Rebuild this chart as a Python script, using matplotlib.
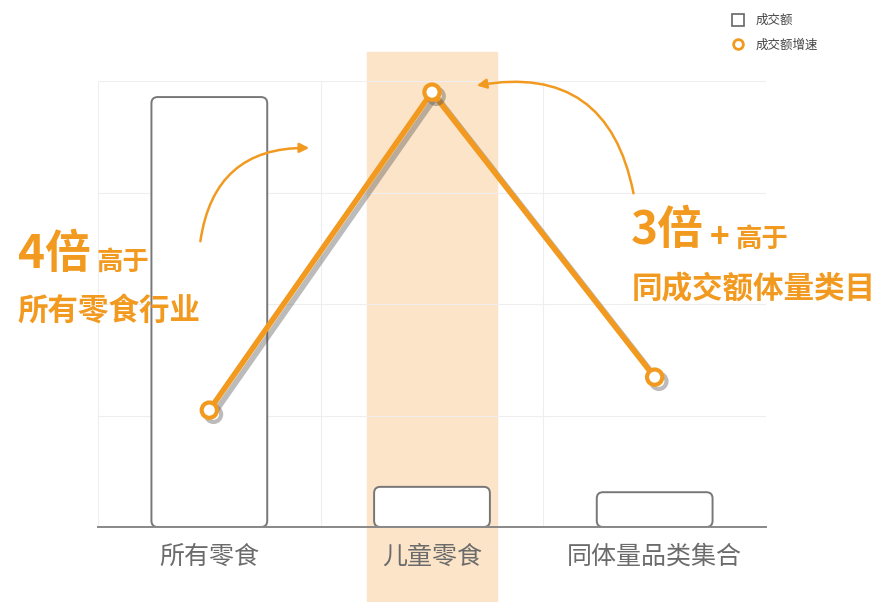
import matplotlib.pyplot as plt
import matplotlib.patheffects as pe
from matplotlib.lines import Line2D
from matplotlib.patches import FancyBboxPatch

plt.rcParams['font.family'] = ['Noto Sans CJK SC', 'DejaVu Sans']

categories = ['所有零食', '儿童零食', '同体量品类集合']
amount = [96.4, 9.0, 7.8]          # 成交额 (relative)
growth = [26.2, 97.5, 33.6]        # 成交额增速 (relative)

orange = '#F29A1F'
gray = '#6B6B6B'

fig = plt.figure(figsize=(8.79, 6.02), dpi=100)
ax = fig.add_axes([98 / 879, 1 - 527 / 602, 668 / 879, 446 / 602])
x = range(len(categories))

ax.set_xlim(-0.5, 2.5)
ax.set_ylim(0, 100)

# highlight band behind 儿童零食
ax.axvspan(1 - 0.29, 1 + 0.29, ymin=-75 / 446, ymax=1 + 29 / 446,
           color='#FCE4C8', zorder=0, clip_on=False)

# faint grid
for gx in [-0.5, 0.5, 1.5, 2.5]:
    ax.axvline(gx, color='#EEEEEE', lw=0.8, zorder=0.5)
for gy in [25, 50, 75, 100]:
    ax.axhline(gy, color='#EEEEEE', lw=0.8, zorder=0.5)

# bars, redrawn with rounded corners
bars = ax.bar(x, amount, width=0.52, alpha=0)
for b in bars:
    ax.add_patch(FancyBboxPatch((b.get_x(), 0), b.get_width(), b.get_height(),
                                boxstyle='round,pad=0,rounding_size=0.028',
                                mutation_aspect=50, facecolor='white',
                                edgecolor='#777777', linewidth=1.4, zorder=2))

ax.plot(x, growth, color=orange, lw=4, marker='o', markersize=11,
        markerfacecolor='white', markeredgecolor=orange, markeredgewidth=3,
        zorder=4, solid_capstyle='round',
        path_effects=[pe.SimpleLineShadow(offset=(3, -3), shadow_color='#555555', alpha=0.4),
                      pe.Normal()])

for s in ['top', 'right', 'left']:
    ax.spines[s].set_visible(False)
ax.spines['bottom'].set_color('#888888')
ax.spines['bottom'].set_linewidth(1.4)
ax.set_yticks([])
ax.set_xticks(list(x))
ax.set_xticklabels(categories, fontsize=18, color=gray)
ax.tick_params(axis='x', length=0, pad=12)

# annotations
fig.text(18 / 879, 1 - 255 / 602, '4倍', fontsize=33, fontweight='bold', color=orange, va='center')
fig.text(97 / 879, 1 - 262 / 602, '高于', fontsize=19, fontweight='bold', color=orange, va='center')
fig.text(18 / 879, 1 - 311 / 602, '所有零食行业', fontsize=22, fontweight='bold', color=orange, va='center')

fig.text(631 / 879, 1 - 231 / 602, '3倍', fontsize=33, fontweight='bold', color=orange, va='center')
fig.text(710 / 879, 1 - 238 / 602, '+', fontsize=24, fontweight='bold', color=orange, va='center')
fig.text(736 / 879, 1 - 239 / 602, '高于', fontsize=19, fontweight='bold', color=orange, va='center')
fig.text(632 / 879, 1 - 289 / 602, '同成交额体量类目', fontsize=22, fontweight='bold', color=orange, va='center')

ax.annotate('', xy=(312 / 879, 1 - 148 / 602), xytext=(200 / 879, 1 - 244 / 602),
            xycoords='figure fraction', textcoords='figure fraction',
            arrowprops=dict(arrowstyle='-|>', color=orange, lw=1.8,
                            connectionstyle='arc3,rad=-0.45', mutation_scale=14))
ax.annotate('', xy=(474 / 879, 1 - 86 / 602), xytext=(634 / 879, 1 - 196 / 602),
            xycoords='figure fraction', textcoords='figure fraction',
            arrowprops=dict(arrowstyle='-|>', color=orange, lw=1.8,
                            connectionstyle='arc3,rad=0.5', mutation_scale=14))

handles = [Line2D([], [], ls='none', marker='s', markersize=9, markerfacecolor='white',
                  markeredgecolor='#666666', markeredgewidth=1.2),
           Line2D([], [], ls='none', marker='o', markersize=7, markerfacecolor='white',
                  markeredgecolor=orange, markeredgewidth=2)]
fig.legend(handles, ['成交额', '成交额增速'], loc='upper left',
           bbox_to_anchor=(714 / 879, 1 - 3 / 602), frameon=False, fontsize=9,
           labelcolor='#444444', handletextpad=0.4, labelspacing=0.9)

fig.savefig('out.png', dpi=100)
